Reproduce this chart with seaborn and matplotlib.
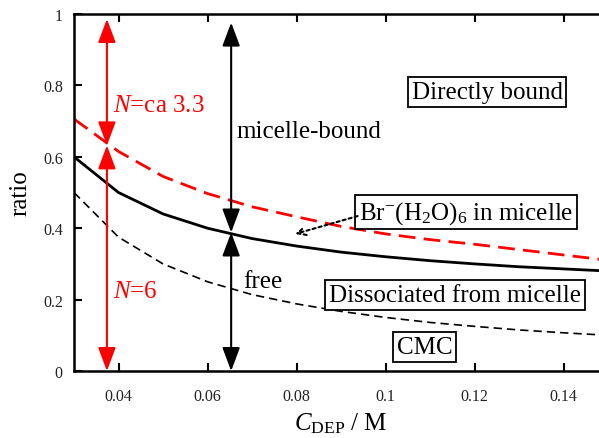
import numpy as np
import pandas as pd
import matplotlib
matplotlib.use("Agg")
import matplotlib.pyplot as plt
import matplotlib.ticker as mticker
import seaborn as sns

sns.set_theme(style="ticks")
plt.rcParams["font.family"] = ["Liberation Serif", "DejaVu Serif"]
plt.rcParams["mathtext.fontset"] = "custom"
plt.rcParams["mathtext.rm"] = "Liberation Serif"
plt.rcParams["mathtext.it"] = "Liberation Serif:italic"
plt.rcParams["text.color"] = "black"
plt.rcParams["axes.labelcolor"] = "black"

# concentration of DEP (M)
conc = [0.03, 0.04, 0.05, 0.06, 0.07, 0.08, 0.09, 0.10, 0.11, 0.12, 0.13, 0.14, 0.15]
# free fraction (solid), directly bound boundary (red dashed), CMC/C (thin dashed)
free_ratio = [0.600, 0.500, 0.440, 0.400, 0.371, 0.350, 0.333, 0.320, 0.309, 0.300, 0.292, 0.286, 0.280]
bound_ratio = [0.706, 0.615, 0.545, 0.497, 0.460, 0.432, 0.405, 0.384, 0.368, 0.355, 0.340, 0.325, 0.310]
cmc_ratio = [0.500, 0.375, 0.300, 0.250, 0.214, 0.188, 0.167, 0.150, 0.136, 0.125, 0.115, 0.107, 0.100]

df = pd.DataFrame({"conc": conc, "free": free_ratio, "bound": bound_ratio, "cmc": cmc_ratio})

fig = plt.figure(figsize=(5.99, 4.39), dpi=100)
ax = fig.add_axes([0.1235, 0.1526, 0.892, 0.8132])

sns.lineplot(data=df, x="conc", y="bound", ax=ax, color="red", lw=2, ls=(0, (6, 3)))
sns.lineplot(data=df, x="conc", y="free", ax=ax, color="black", lw=2)
sns.lineplot(data=df, x="conc", y="cmc", ax=ax, color="black", lw=1.2, ls=(0, (5, 3)))

ax.set_xlim(0.03, 0.15)
ax.set_ylim(0, 1)
ax.set_xticks([0.04, 0.06, 0.08, 0.10, 0.12, 0.14])
ax.set_yticks([0, 0.2, 0.4, 0.6, 0.8, 1.0])
fmt = mticker.FuncFormatter(lambda v, p: "%g" % round(v, 3))
ax.xaxis.set_major_formatter(fmt)
ax.yaxis.set_major_formatter(fmt)
ax.tick_params(direction="in", length=6, width=1.5, labelsize=11.5, top=True, pad=8,
               colors="black", labelcolor="#222222")
ax.tick_params(axis="x", pad=12)
for s in ax.spines.values():
    s.set_linewidth(1.8)
    s.set_color("black")

ax.set_xlabel(r"$C_{\mathrm{DEP}}$ / M", fontsize=18, labelpad=5)
ax.set_ylabel("ratio", fontsize=18, labelpad=8)

head = "<|-|>,head_length=1.2,head_width=0.45"

# red arrows (N)
xr = 0.0374
red_kw = dict(arrowstyle=head, color="red", lw=1.5, shrinkA=0, shrinkB=0)
ax.annotate("", xy=(xr, 0.0), xytext=(xr, 0.632), arrowprops=red_kw)
ax.annotate("", xy=(xr, 0.632), xytext=(xr, 0.986), arrowprops=red_kw)
ax.text(0.0388, 0.745, r"$N$=ca 3.3", color="red", fontsize=18, va="center")
ax.text(0.0388, 0.225, r"$N$=6", color="red", fontsize=18, va="center")

# black arrows
xb = 0.0653
blk_kw = dict(arrowstyle=head, color="black", lw=1.5, shrinkA=0, shrinkB=0)
ax.annotate("", xy=(xb, 0.388), xytext=(xb, 0.976), arrowprops=blk_kw)
ax.annotate("", xy=(xb, 0.0), xytext=(xb, 0.388), arrowprops=blk_kw)
ax.text(0.0665, 0.672, "micelle-bound", fontsize=18, va="center")
ax.text(0.068, 0.252, "free", fontsize=18, va="center")

box = dict(boxstyle="square,pad=0.15", fc="white", ec="black", lw=1.3)
ax.text(0.1228, 0.781, "Directly bound", fontsize=18, ha="center", va="center", bbox=box)
ax.text(0.1181, 0.445, r"Br$^{\mathrm{-}}$(H$_{2}$O)$_{6}$ in micelle", fontsize=18,
        ha="center", va="center", bbox=box)
ax.text(0.1156, 0.213, "Dissociated from micelle", fontsize=18, ha="center", va="center", bbox=box)
ax.text(0.1087, 0.067, "CMC", fontsize=18, ha="center", va="center", bbox=box)

ax.annotate("", xy=(0.0797, 0.384), xytext=(0.0937, 0.434),
            arrowprops=dict(arrowstyle="->,head_length=0.5,head_width=0.25", color="black",
                            lw=1.5, ls=(0, (1.5, 1.5)), shrinkA=0, shrinkB=0))

fig.savefig("out.png", dpi=100)
